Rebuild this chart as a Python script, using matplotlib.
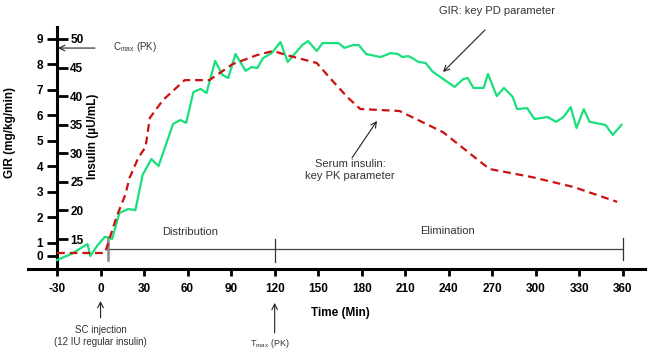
import numpy as np
import matplotlib
matplotlib.use('Agg')
import matplotlib.pyplot as plt

plt.rcParams['font.family'] = ['Liberation Sans', 'DejaVu Sans']
plt.rcParams['mathtext.fontset'] = 'custom'
plt.rcParams['mathtext.rm'] = 'Liberation Sans'
plt.rcParams['mathtext.it'] = 'Liberation Sans'
plt.rcParams['axes.unicode_minus'] = False

# GIR (mg/kg/min) - green line
gir_t = [-30, -20, -9, -7, -2, 3, 8, 13, 19, 24, 29, 35, 40, 50, 55, 59, 64, 69, 73,
         79, 84, 88, 93, 100, 104, 108, 112, 118, 124, 129, 139, 143, 149, 153, 164,
         168, 174, 178, 183, 193, 200, 205, 208, 212, 215, 219, 224, 229, 244, 250,
         253, 257, 264, 267, 273, 278, 284, 287, 294, 299, 308, 314, 319, 324, 328,
         333, 337, 348, 353, 359]
gir = [-0.31, 0.16, 0.92, 0.0, 0.84, 1.24, 1.16, 2.18, 2.33, 2.29, 3.67, 4.29, 4.02,
       5.67, 5.82, 5.71, 6.92, 7.04, 6.88, 8.14, 7.59, 7.47, 8.41, 7.75, 7.90, 7.86,
       8.25, 8.45, 8.88, 8.10, 8.76, 8.92, 8.53, 8.84, 8.84, 8.65, 8.76, 8.76, 8.41,
       8.29, 8.45, 8.41, 8.29, 8.33, 8.25, 8.10, 8.06, 7.71, 7.12, 7.43, 7.47, 7.08,
       7.08, 7.63, 6.76, 7.08, 6.73, 6.25, 6.29, 5.86, 5.94, 5.75, 5.94, 6.33, 5.51,
       6.25, 5.75, 5.63, 5.24, 5.63]

# Serum insulin (uU/mL) - red dashed line
ins_t = [-30, 3, 11, 17, 20, 26, 31, 34, 43, 58, 75, 91, 108, 119, 128, 149, 158,
         170, 179, 206, 236, 268, 297, 326, 356]
ins = [12.55, 12.55, 18.85, 22.7, 25.7, 29.2, 31.1, 36.2, 39.3, 42.8, 42.8, 45.6,
       47.2, 47.9, 47.2, 45.8, 43.2, 39.85, 37.75, 37.4, 33.7, 27.25, 25.85, 24.1, 21.5]

x_ticks = [-30, 0, 30, 60, 90, 120, 150, 180, 210, 240, 270, 300, 330, 360]
gir_ticks = [0, 1, 2, 3, 4, 5, 6, 7, 8, 9]
ins_ticks = [15, 20, 25, 30, 35, 40, 45, 50]


# the GIR axis is squeezed between 0 and 1 in the original drawing
def fwd(v):
    v = np.asarray(v, dtype=float)
    return np.where(v >= 1, v, 1 - (1 - v) * 0.51)


def inv(u):
    u = np.asarray(u, dtype=float)
    return np.where(u >= 1, u, 1 - (1 - u) / 0.51)


fig = plt.figure(figsize=(6.49, 3.58), dpi=100)
ax = fig.add_axes([0.0431, 0.2486, 0.9503, 0.676])
ax.set_yscale('function', functions=(fwd, inv))
ax.set_xlim(-50, 375)
ax.set_ylim(-1.0, 9.47)

ax2 = ax.twinx()
ax2.set_ylim(9.75, 52.1)

ax.plot(gir_t, gir, color='#19e07c', lw=1.6, zorder=3)
ax2.plot(ins_t, ins, color='#cc1111', lw=1.6, dashes=(3.5, 2.2), zorder=3)

for s in ['top', 'right']:
    ax.spines[s].set_visible(False)
ax.spines['left'].set_position(('data', -30))
ax.spines['left'].set_linewidth(2.2)
ax.spines['bottom'].set_linewidth(2.2)
for s in ['top', 'bottom', 'left', 'right']:
    ax2.spines[s].set_visible(False)
ax2.spines['right'].set_position(('data', -30))

ax.set_xticks(x_ticks)
ax.set_yticks(gir_ticks)
ax.set_yticklabels([str(v) for v in gir_ticks])
ax.yaxis.set_minor_locator(matplotlib.ticker.NullLocator())
ax2.set_yticks(ins_ticks)
ax.tick_params(axis='x', direction='out', length=5, width=2, pad=5, labelsize=8.5)
ax.tick_params(axis='y', direction='out', length=7, width=2, pad=3, labelsize=8.5)
ax2.tick_params(axis='y', direction='out', length=8, width=2, pad=1.5, labelsize=8.5)
for lab in ax.get_xticklabels() + ax.get_yticklabels() + ax2.get_yticklabels():
    lab.set_fontweight('bold')

ax.set_xlabel('Time (Min)', fontsize=8.5, fontweight='bold')
ax.xaxis.set_label_coords(0.506, -0.155)
ax.set_ylabel('GIR (mg/kg/min)', fontsize=8.5, fontweight='bold')
ax.yaxis.set_label_coords(-0.029, 0.566)
ax.yaxis.label.set_verticalalignment('center')
ax2.set_ylabel('Insulin (µU/mL)', fontsize=8.5, fontweight='bold')
ax2.yaxis.set_label_coords(0.105, 0.55)
ax2.yaxis.label.set_verticalalignment('center')

tr = ax.get_xaxis_transform()
txt = '#333333'
arr = dict(arrowstyle='->', color='#222222', lw=0.8, shrinkA=0, shrinkB=0)

# phase bracket
ax.plot([5, 360], [0.083, 0.083], color='#444444', lw=0.9, transform=tr, clip_on=False)
ax.plot([5, 5], [0.037, 0.132], color='#888888', lw=1.8, transform=tr, clip_on=False)
ax.plot([120, 120], [0.029, 0.124], color='#333333', lw=0.9, transform=tr, clip_on=False)
ax.plot([360, 360], [0.037, 0.128], color='#333333', lw=0.9, transform=tr, clip_on=False)
ax.text(62, 0.153, 'Distribution', transform=tr, ha='center', va='center', fontsize=8, color=txt)
ax.text(239, 0.157, 'Elimination', transform=tr, ha='center', va='center', fontsize=8, color=txt)

# annotations
ax.annotate('', xy=(-29.3, 0.913), xytext=(-3.8, 0.913), xycoords=tr, textcoords=tr,
            arrowprops=arr, annotation_clip=False)
ax.text(8.6, 0.917, r'C$_{\mathrm{max}}$ (PK)', transform=tr, ha='left', va='center',
        fontsize=7, color=txt)

ax.annotate('', xy=(236, 0.814), xytext=(265, 0.988), xycoords=tr, textcoords=tr,
            arrowprops=arr, annotation_clip=False)
ax.text(273, 1.066, 'GIR: key PD parameter', transform=tr, ha='center', va='center',
        fontsize=8, color=txt, clip_on=False)

ax.annotate('', xy=(190.5, 0.612), xytext=(173.3, 0.459), xycoords=tr, textcoords=tr,
            arrowprops=arr, annotation_clip=False)
ax.text(172, 0.409, 'Serum insulin:\nkey PK parameter', transform=tr, ha='center',
        va='center', fontsize=8, color=txt, linespacing=1.15)

ax.annotate('', xy=(0, -0.132), xytext=(0, -0.202), xycoords=tr, textcoords=tr,
            arrowprops=arr, annotation_clip=False)
ax.text(0, -0.277, 'SC injection\n(12 IU regular insulin)', transform=tr, ha='center',
        va='center', fontsize=7, color=txt, linespacing=1.2, clip_on=False)

ax.annotate('', xy=(120, -0.140), xytext=(120, -0.264), xycoords=tr, textcoords=tr,
            arrowprops=arr, annotation_clip=False)
ax.text(117, -0.306, r'T$_{\mathrm{max}}$ (PK)', transform=tr, ha='center', va='center',
        fontsize=6.5, color=txt, clip_on=False)

fig.savefig('out.png', dpi=100)
